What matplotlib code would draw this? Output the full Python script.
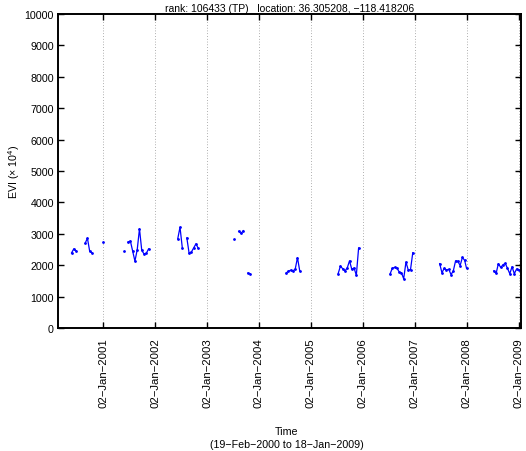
import datetime as dt
import matplotlib
matplotlib.use('Agg')
import matplotlib.pyplot as plt
import matplotlib.dates as mdates
from matplotlib.ticker import FuncFormatter, MultipleLocator

# MODIS 16-day composites, each run given as "year-doy" of its first composite
seg_starts = ['2000-145', '2000-241', '2001-001', '2001-145', '2001-177',
              '2002-161', '2002-225', '2003-193', '2003-225', '2003-289',
              '2004-193', '2005-193', '2006-193', '2007-177', '2008-193']
seg_evi = [
    [2390, 2520, 2460],
    [2700, 2860, 2440, 2390],
    [2730],
    [2460],
    [2740, 2770, 2450, 2130, 2490, 3160, 2470, 2360, 2380, 2520],
    [2840, 3210, 2560],
    [2870, 2380, 2420, 2550, 2680, 2540],
    [2820],
    [3080, 3010, 3100],
    [1750, 1730],
    [1750, 1810, 1840, 1820, 1870, 2240, 1820],
    [1730, 1970, 1890, 1820, 1910, 2140, 1870, 1910, 1680, 2550],
    [1720, 1900, 1930, 1910, 1790, 1760, 1570, 2100, 1850, 1860, 2400],
    [2050, 1760, 1900, 1850, 1870, 1700, 1820, 2140, 2120, 1990, 2250, 2150, 1900],
    [1820, 1740, 2050, 1930, 2010, 2060, 1900, 1730, 1950, 1730, 1880, 1850],
]
tick_years = list(range(2001, 2010))
x_start = dt.datetime(2000, 2, 19)
x_end = dt.datetime(2009, 1, 18)


def composite_dates(start, n):
    year, doy = [int(s) for s in start.split('-')]
    out = []
    for i in range(n):
        out.append(dt.datetime(year, 1, 1) + dt.timedelta(days=doy - 1))
        doy += 16
        if doy > 366:
            year += 1
            doy = 1
    return out


plt.rcParams['font.family'] = ['Liberation Sans', 'DejaVu Sans']
plt.rcParams['font.size'] = 7.7
plt.rcParams['mathtext.fontset'] = 'custom'
plt.rcParams['mathtext.rm'] = 'Liberation Sans'

fig = plt.figure(figsize=(5.26, 4.52), dpi=100)
ax = fig.add_axes([58 / 526, 1 - 329 / 452, 463 / 526, 314 / 452])

for start, vals in zip(seg_starts, seg_evi):
    ax.plot(composite_dates(start, len(vals)), vals, '.-', color='#0000ff',
            lw=0.9, ms=2)

ax.set_xlim(x_start, x_end)
ax.set_ylim(0, 10000)
ax.yaxis.set_major_locator(MultipleLocator(1000))
ax.set_xticks([dt.datetime(y, 1, 2) for y in tick_years])
ax.xaxis.set_major_formatter(FuncFormatter(
    lambda v, p: mdates.num2date(v).strftime('%d-%b-%Y').replace('-', '\u2212')))
plt.setp(ax.get_xticklabels(), rotation=90, fontsize=8.2)

ax.grid(axis='x', linestyle=(0, (1, 3)), color='#666666', lw=0.5)
ax.tick_params(direction='in', length=4, width=1, top=True, right=True, pad=3)
ax.tick_params(axis='x', pad=7)
for s in ax.spines.values():
    s.set_linewidth(1.4)

ax.set_title('rank: 106433 (TP)   location: 36.305208, \u2212118.418206',
             fontsize=7.5, pad=2)
ax.set_ylabel('EVI ($\\times$ 10$^4$)', labelpad=2)
fig.text(287 / 526, 1 - 432 / 452, 'Time', ha='center', va='center')
fig.text(287 / 526, 1 - 445 / 452, '(19\u2212Feb\u22122000 to 18\u2212Jan\u22122009)',
         ha='center', va='center')

fig.savefig('out.png', dpi=100)
